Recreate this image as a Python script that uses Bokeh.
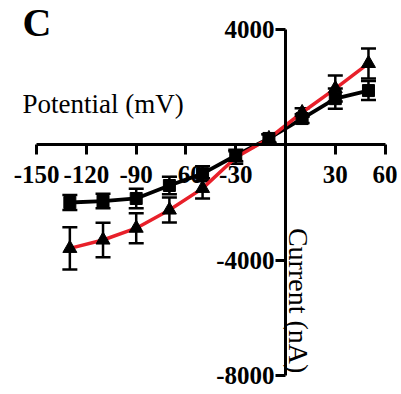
from bokeh.plotting import figure
from bokeh.models import LinearAxis, FixedTicker, ColumnDataSource, Whisker, TeeHead, Label, Range1d
from bokeh.embed import file_html
from bokeh.resources import INLINE
import math

# Data
potential = [-130, -110, -90, -70, -50, -30, -10, 10, 30, 50]
current_sq = [-2000, -1950, -1860, -1410, -1000, -370, 220, 910, 1600, 1880]
err_sq = [260, 250, 340, 300, 260, 200, 150, 150, 350, 330]
current_tri = [-3590, -3300, -2890, -2260, -1510, -440, 220, 1120, 1950, 2820]
err_tri = [730, 600, 520, 430, 350, 220, 150, 150, 450, 520]
x_ticks = [-150, -120, -90, -60, -30, 30, 60]
y_ticks = [4000, -4000, -8000]

FONT = "Liberation Serif"

p = figure(width=400, height=390, output_backend="svg", toolbar_location=None,
           x_range=Range1d(-171.8, 69.3), y_range=Range1d(-8516, 5002),
           x_axis_location=None, y_axis_location=None,
           min_border_left=0, min_border_right=0, min_border_top=0, min_border_bottom=0)
p.outline_line_color = None
p.grid.visible = False
p.background_fill_color = "white"

xaxis = LinearAxis(fixed_location=0, ticker=FixedTicker(ticks=x_ticks), bounds=(-150, 60))
yaxis = LinearAxis(fixed_location=0, ticker=FixedTicker(ticks=y_ticks), bounds=(-8000, 4000))
xaxis.major_label_overrides = {t: str(t) for t in x_ticks}
yaxis.major_label_overrides = {t: str(t) for t in y_ticks}
for ax in (xaxis, yaxis):
    ax.axis_line_width = 3
    ax.axis_line_color = "black"
    ax.major_tick_line_width = 3
    ax.major_tick_line_color = "black"
    ax.major_tick_out = 10
    ax.major_tick_in = 0
    ax.minor_tick_line_color = None
    ax.major_label_text_font = FONT
    ax.major_label_text_font_style = "bold"
    ax.major_label_text_font_size = "25px"
    ax.major_label_text_color = "black"
xaxis.major_label_standoff = 11
yaxis.major_label_standoff = 1
p.add_layout(xaxis, "below")
p.add_layout(yaxis, "left")

src = ColumnDataSource(dict(x=potential, ysq=current_sq, ytri=current_tri,
                            sq_lo=[v - e for v, e in zip(current_sq, err_sq)],
                            sq_hi=[v + e for v, e in zip(current_sq, err_sq)],
                            tri_lo=[v - e for v, e in zip(current_tri, err_tri)],
                            tri_hi=[v + e for v, e in zip(current_tri, err_tri)]))

p.line("x", "ysq", source=src, line_color="black", line_width=3.8)
p.line("x", "ytri", source=src, line_color="#e8202a", line_width=3.5)

for lo, hi in (("sq_lo", "sq_hi"), ("tri_lo", "tri_hi")):
    w = Whisker(base="x", lower=lo, upper=hi, source=src, line_color="black", line_width=2.5,
                upper_head=TeeHead(size=15, line_color="black", line_width=2.5),
                lower_head=TeeHead(size=15, line_color="black", line_width=2.5))
    p.add_layout(w)

p.scatter("x", "ysq", source=src, marker="square", size=12, fill_color="black", line_color="black")
p.scatter("x", "ytri", source=src, marker="triangle", size=14, fill_color="black", line_color="black")

p.add_layout(Label(x=-158.6, y=1400, text="Potential (mV)", text_font=FONT,
                   text_font_size="27px", text_color="black", text_baseline="alphabetic"))
p.add_layout(Label(x=7.8, y=-2880, text="Current (nA)", text_font=FONT, angle=-math.pi / 2,
                   text_font_size="28px", text_color="black", text_baseline="alphabetic"))
p.add_layout(Label(x=-158.6, y=4230, text="C", text_font=FONT, text_font_style="bold",
                   text_font_size="40px", text_color="black", text_baseline="alphabetic"))

open("out.html", "w").write(file_html(p, INLINE))
